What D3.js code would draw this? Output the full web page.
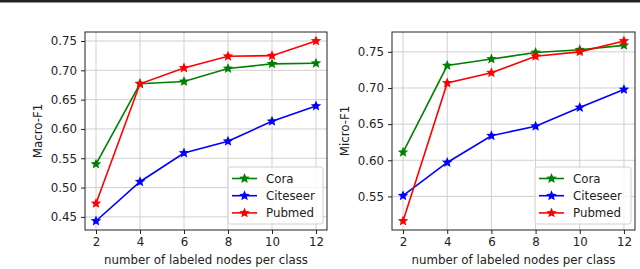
<!DOCTYPE html>
<html>
<head>
<script src="https://d3js.org/d3.v7.min.js"></script>
<style>
  body { margin: 0; background: #fff; }
  svg { display: block; font-family: "DejaVu Sans", sans-serif; }
</style>
</head>
<body>
<div id="chart"></div>
<script>
// data
const labeledNodes = [2, 4, 6, 8, 10, 12];
const seriesNames = ["Cora", "Citeseer", "Pubmed"];
const seriesColors = ["#008000", "#0000ff", "#ff0000"];

const macroCora = [0.540, 0.677, 0.681, 0.703, 0.711, 0.712];
const macroCiteseer = [0.443, 0.510, 0.559, 0.579, 0.613, 0.639];
const macroPubmed = [0.473, 0.677, 0.704, 0.724, 0.725, 0.750];

const microCora = [0.611, 0.731, 0.740, 0.749, 0.753, 0.759];
const microCiteseer = [0.551, 0.597, 0.634, 0.647, 0.673, 0.698];
const microPubmed = [0.516, 0.707, 0.721, 0.744, 0.750, 0.765];

const xTicks = [2, 4, 6, 8, 10, 12];
const macroTicks = [0.45, 0.50, 0.55, 0.60, 0.65, 0.70, 0.75];
const microTicks = [0.55, 0.60, 0.65, 0.70, 0.75];

const fontSize = 11.8;
const width = 640, height = 269;
const svg = d3.select("#chart").append("svg")
    .attr("width", width)
    .attr("height", height);

// dark rule along the top of the page
svg.append("rect").attr("x", 0).attr("y", 0).attr("width", width).attr("height", 2.5).attr("fill", "#222");

// star path centred on 0,0
function starPath(r) {
    const pts = [];
    for (let i = 0; i < 10; i++) {
        const rad = i % 2 === 0 ? r : r * 0.45;
        const a = -Math.PI / 2 + i * Math.PI / 5;
        pts.push([rad * Math.cos(a), rad * Math.sin(a)]);
    }
    return "M" + pts.map(p => p.join(",")).join("L") + "Z";
}

function drawPanel(opts) {
    const { left, right, top, bottom, series, yTicks, yLabel, yLabelX, legendX } = opts;

    const allVals = series.flat();
    const ymin = d3.min(allVals), ymax = d3.max(allVals);
    const ypad = (ymax - ymin) * 0.05;

    const x = d3.scaleLinear().domain([1.5, 12.5]).range([left, right]);
    const y = d3.scaleLinear().domain([ymin - ypad, ymax + ypad]).range([bottom, top]);

    const g = svg.append("g");

    // grid
    g.selectAll(".vgrid").data(xTicks).enter().append("line")
        .attr("x1", d => x(d)).attr("x2", d => x(d))
        .attr("y1", top).attr("y2", bottom)
        .attr("stroke", "#d0d0d0").attr("stroke-width", 1);
    g.selectAll(".hgrid").data(yTicks).enter().append("line")
        .attr("x1", left).attr("x2", right)
        .attr("y1", d => y(d)).attr("y2", d => y(d))
        .attr("stroke", "#d0d0d0").attr("stroke-width", 1);

    // axes
    const xAxis = g.append("g")
        .attr("transform", `translate(0,${bottom})`)
        .call(d3.axisBottom(x).tickValues(xTicks).tickSize(4).tickPadding(4).tickFormat(d3.format("d")));
    const yAxis = g.append("g")
        .attr("transform", `translate(${left},0)`)
        .call(d3.axisLeft(y).tickValues(yTicks).tickSize(4).tickPadding(4).tickFormat(d3.format(".2f")));
    [xAxis, yAxis].forEach(a => {
        a.select(".domain").remove();
        a.selectAll("line").attr("stroke", "#222");
        a.selectAll("text").attr("font-size", fontSize).attr("fill", "#222").attr("font-family", "DejaVu Sans");
    });

    // lines
    const line = d3.line().x((d, i) => x(labeledNodes[i])).y(d => y(d));
    series.forEach((vals, si) => {
        g.append("path")
            .datum(vals)
            .attr("d", line)
            .attr("fill", "none")
            .attr("stroke", seriesColors[si])
            .attr("stroke-width", 1.6);
        g.selectAll(".m" + si).data(vals).enter().append("path")
            .attr("d", starPath(5.5))
            .attr("transform", (d, i) => `translate(${x(labeledNodes[i])},${y(d)})`)
            .attr("fill", seriesColors[si]);
    });

    // frame
    g.append("rect")
        .attr("x", left).attr("y", top)
        .attr("width", right - left).attr("height", bottom - top)
        .attr("fill", "none").attr("stroke", "#222").attr("stroke-width", 1);

    // legend
    const lg = g.append("g");
    lg.append("rect")
        .attr("x", legendX).attr("y", 167)
        .attr("width", right - 4 - legendX).attr("height", 57)
        .attr("rx", 2.5)
        .attr("fill", "#fff").attr("fill-opacity", 0.8)
        .attr("stroke", "#d0d0d0");
    seriesNames.forEach((name, i) => {
        const ly = 178.5 + i * 17.2;
        lg.append("line")
            .attr("x1", legendX + 4).attr("x2", legendX + 29)
            .attr("y1", ly).attr("y2", ly)
            .attr("stroke", seriesColors[i]).attr("stroke-width", 1.6);
        lg.append("path")
            .attr("d", starPath(5.5))
            .attr("transform", `translate(${legendX + 16.5},${ly})`)
            .attr("fill", seriesColors[i]);
        lg.append("text")
            .attr("x", legendX + 38).attr("y", ly)
            .attr("dy", "0.35em")
            .attr("font-size", fontSize).attr("fill", "#222")
            .text(name);
    });

    // axis labels
    g.append("text")
        .attr("x", (left + right) / 2).attr("y", 264)
        .attr("text-anchor", "middle")
        .attr("font-size", fontSize).attr("fill", "#222")
        .text("number of labeled nodes per class");
    g.append("text")
        .attr("transform", `translate(${yLabelX},${(top + bottom) / 2}) rotate(-90)`)
        .attr("text-anchor", "middle")
        .attr("dy", "0.35em")
        .attr("font-size", fontSize).attr("fill", "#222")
        .text(yLabel);
}

drawPanel({
    left: 85, right: 327, top: 32, bottom: 230,
    series: [macroCora, macroCiteseer, macroPubmed],
    yTicks: macroTicks, yLabel: "Macro-F1", yLabelX: 38, legendX: 228
});
drawPanel({
    left: 392, right: 635, top: 32, bottom: 230,
    series: [microCora, microCiteseer, microPubmed],
    yTicks: microTicks, yLabel: "Micro-F1", yLabelX: 345, legendX: 535
});
</script>
</body>
</html>
